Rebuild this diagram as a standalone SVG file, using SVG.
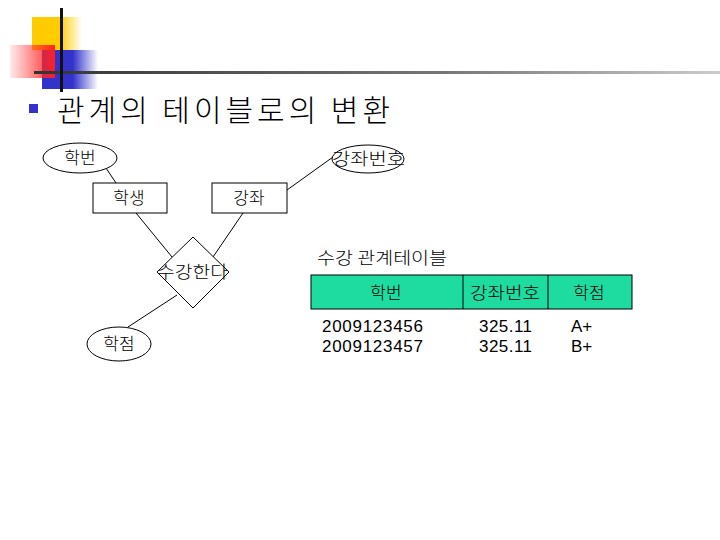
<svg xmlns="http://www.w3.org/2000/svg" width="720" height="540" viewBox="0 0 720 540">
<style>
.t{font-family:"Noto Sans CJK KR","Liberation Sans",sans-serif;fill:#000;font-weight:300}
.n{font-family:"Liberation Sans","Noto Sans CJK KR",sans-serif;fill:#000}
.s{fill:#fff;stroke:#000;stroke-width:1}
.c{stroke:#000;stroke-width:1;fill:none}
</style>
<defs>
<linearGradient id="gy" x1="0" x2="1" y1="0" y2="0"><stop offset="0" stop-color="#FFCC00"/><stop offset="0.55" stop-color="#FFCC00"/><stop offset="1" stop-color="#FFCC00" stop-opacity="0"/></linearGradient>
<linearGradient id="gb" x1="0" x2="1" y1="0" y2="0"><stop offset="0" stop-color="#3333CC"/><stop offset="0.55" stop-color="#3333CC"/><stop offset="1" stop-color="#3333CC" stop-opacity="0"/></linearGradient>
<linearGradient id="gr" x1="0" x2="1" y1="0" y2="0"><stop offset="0" stop-color="#FF3333" stop-opacity="0.1"/><stop offset="1" stop-color="#FF2020"/></linearGradient>
<linearGradient id="gl" x1="0" x2="1" y1="0" y2="0"><stop offset="0" stop-color="#333"/><stop offset="0.6" stop-color="#777"/><stop offset="1" stop-color="#ccc"/></linearGradient>
</defs>
<g id="decoration">
<rect x="32" y="17" width="50" height="33" fill="url(#gy)"/>
<rect x="42" y="50" width="56" height="39" fill="url(#gb)"/>
<rect x="10" y="45" width="45" height="33" fill="url(#gr)"/>
<rect x="34" y="71" width="686" height="3" fill="url(#gl)"/>
<rect x="60" y="8" width="3" height="84" fill="#111"/>
</g>
<g id="title">
<rect x="29" y="104" width="9" height="9" fill="#3333CC"/>
<text class="t" x="57" y="121" font-size="30" textLength="333" lengthAdjust="spacing">관계의 테이블로의 변환</text>
</g>
<g id="connectors">
<line class="c" x1="106" y1="168" x2="116" y2="183"/>
<line class="c" x1="333" y1="157" x2="287" y2="190"/>
<line class="c" x1="136" y1="213" x2="172" y2="257"/>
<line class="c" x1="243" y1="213" x2="213" y2="257"/>
<line class="c" x1="177" y1="295" x2="128" y2="327"/>
</g>
<g id="attr-hakbeon">
<ellipse class="s" cx="80" cy="158" rx="37" ry="15"/>
<text class="t" x="80" y="164" font-size="17" text-anchor="middle">학번</text>
</g>
<g id="attr-gangjwabeonho">
<ellipse class="s" cx="368" cy="159" rx="36" ry="14"/>
<text class="t" x="332" y="165" font-size="17" textLength="73" lengthAdjust="spacingAndGlyphs">강좌번호</text>
</g>
<g id="entity-haksaeng">
<rect class="s" x="93" y="183" width="74" height="30"/>
<text class="t" x="129" y="204" font-size="17" text-anchor="middle">학생</text>
</g>
<g id="entity-gangjwa">
<rect class="s" x="212" y="183" width="75" height="30"/>
<text class="t" x="249" y="204" font-size="17" text-anchor="middle">강좌</text>
</g>
<g id="rel-sugang">
<polygon class="s" points="193,237 229,272 193,308 157,272"/>
<text class="t" x="157" y="278" font-size="17" textLength="71" lengthAdjust="spacingAndGlyphs">수강한다</text>
</g>
<g id="attr-hakjeom">
<ellipse class="s" cx="119" cy="344" rx="32" ry="17"/>
<text class="t" x="119" y="350" font-size="17" text-anchor="middle">학점</text>
</g>
<g id="table">
<text class="t" x="317" y="264" font-size="17" textLength="130" lengthAdjust="spacingAndGlyphs">수강 관계테이블</text>
<rect x="311" y="275" width="321" height="34" fill="#1EDBA0" stroke="#000"/>
<line class="c" x1="463" y1="275" x2="463" y2="309"/>
<line class="c" x1="548" y1="275" x2="548" y2="309"/>
<text class="t" x="386" y="299" font-size="17" text-anchor="middle">학번</text>
<text class="t" x="470" y="299" font-size="17" textLength="70" lengthAdjust="spacingAndGlyphs">강좌번호</text>
<text class="t" x="589" y="299" font-size="17" text-anchor="middle">학점</text>
<text class="n" x="322" y="332" font-size="17" textLength="101">2009123456</text>
<text class="n" x="322" y="352" font-size="17" textLength="101">2009123457</text>
<text class="n" x="479" y="332" font-size="17" textLength="53">325.11</text>
<text class="n" x="479" y="352" font-size="17" textLength="53">325.11</text>
<text class="n" x="571" y="332" font-size="17">A+</text>
<text class="n" x="571" y="352" font-size="17">B+</text>
</g>
</svg>
